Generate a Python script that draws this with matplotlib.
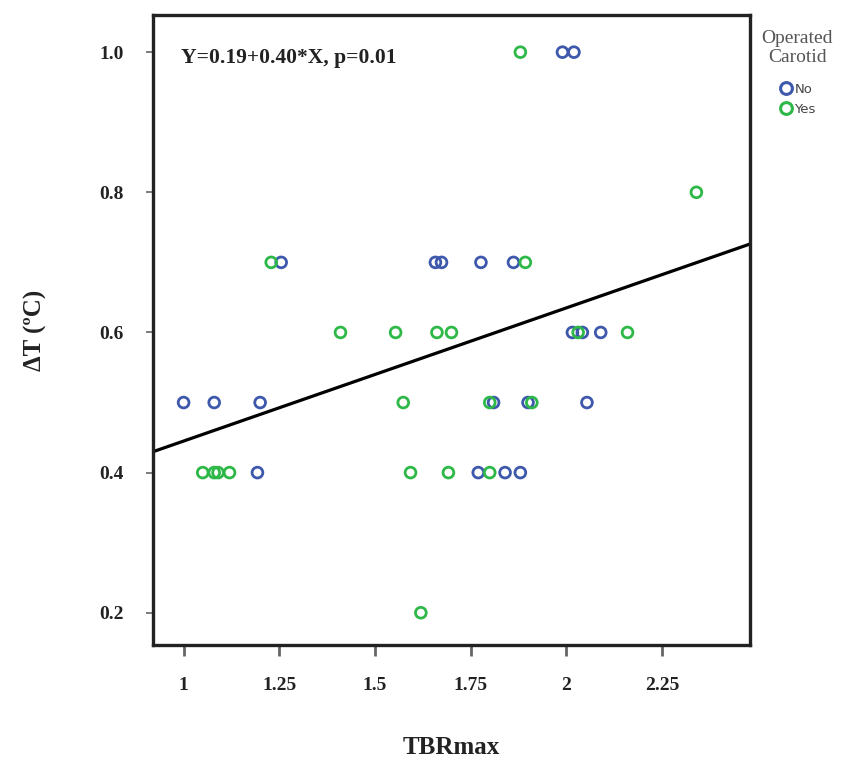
import matplotlib

matplotlib.use("Agg")
import matplotlib.pyplot as plt  # noqa: E402
from matplotlib.lines import Line2D  # noqa: E402
import numpy as np  # noqa: E402

# 读图估计的散点数据：TBRmax vs ΔT，按是否为手术侧颈动脉分组
no_x = [1.99, 2.02,
        1.255, 1.658, 1.674, 1.777, 1.862,
        2.016, 2.042, 2.09,
        1.0, 1.08, 1.20, 1.81, 1.90, 2.054,
        1.193, 1.77, 1.84, 1.88]
no_y = [1.0, 1.0,
        0.7, 0.7, 0.7, 0.7, 0.7,
        0.6, 0.6, 0.6,
        0.5, 0.5, 0.5, 0.5, 0.5, 0.5,
        0.4, 0.4, 0.4, 0.4]

yes_x = [1.88,
         2.34,
         1.229, 1.893,
         1.41, 1.554, 1.662, 1.70, 2.031, 2.16,
         1.574, 1.80, 1.91,
         1.05, 1.08, 1.09, 1.12, 1.593, 1.692, 1.80,
         1.62]
yes_y = [1.0,
         0.8,
         0.7, 0.7,
         0.6, 0.6, 0.6, 0.6, 0.6, 0.6,
         0.5, 0.5, 0.5,
         0.4, 0.4, 0.4, 0.4, 0.4, 0.4, 0.4,
         0.2]

# 图中实际画出的拟合线（按像素读出）
fit_intercept = 0.255
fit_slope = 0.19
equation = "Y=0.19+0.40*X, p=0.01"

x_ticks = [1, 1.25, 1.5, 1.75, 2, 2.25]
x_tick_labels = ["1", "1.25", "1.5", "1.75", "2", "2.25"]
y_ticks = [0.2, 0.4, 0.6, 0.8, 1.0]
y_tick_labels = ["0.2", "0.4", "0.6", "0.8", "1.0"]

_BLUE = "#3e58ac"
_GREEN = "#2eb848"
_SERIF = ["Liberation Serif", "DejaVu Serif"]

fig = plt.figure(figsize=(8.48, 7.67), dpi=100)
ax = fig.add_axes([0.1804, 0.1591, 0.704, 0.8213])

xlim = (0.92, 2.48)
ax.set_xlim(*xlim)
ax.set_ylim(0.154, 1.053)

xs = np.array(xlim)
ax.plot(xs, fit_intercept + fit_slope * xs, color="black", lw=2.3, zorder=2)

mk = dict(marker="o", s=60, facecolors="none", linewidths=2.0, zorder=3)
ax.scatter(no_x, no_y, edgecolors=_BLUE, **mk)
ax.scatter(yes_x, yes_y, edgecolors=_GREEN, **mk)

ax.text(0.047, 0.932, equation, transform=ax.transAxes, family=_SERIF,
        fontweight="bold", fontsize=15.5, color="#222222", va="center")

ax.set_xticks(x_ticks)
ax.set_xticklabels(x_tick_labels)
ax.set_yticks(y_ticks)
ax.set_yticklabels(y_tick_labels)
for lab in ax.get_xticklabels() + ax.get_yticklabels():
    lab.set_family(_SERIF)
    lab.set_fontweight("bold")
    lab.set_fontsize(14)
    lab.set_color("#222222")
ax.tick_params(axis="x", direction="out", length=8, width=2, pad=15, color="#666666")
ax.tick_params(axis="y", direction="out", length=5, width=1.2, pad=16, color="#666666")

for s in ax.spines.values():
    s.set_linewidth(2.4)
    s.set_color("#222222")

ax.set_xlabel("TBRmax", family=_SERIF, fontweight="bold", fontsize=18,
              labelpad=30, color="#222222")
ax.set_ylabel("ΔT (ºC)", family=_SERIF, fontweight="bold", fontsize=18,
              labelpad=38, color="#222222")

# 图例：标题衬线灰字，条目小号无衬线
handles = [
    Line2D([], [], ls="none", marker="o", mfc="none", mec=_BLUE, mew=2.2, ms=8.5, label="No"),
    Line2D([], [], ls="none", marker="o", mfc="none", mec=_GREEN, mew=2.2, ms=8.5, label="Yes"),
]
leg = fig.legend(handles=handles, title="Operated\nCarotid", loc="upper left",
                 bbox_to_anchor=(0.892, 0.968), frameon=False, fontsize=9.5,
                 handletextpad=0.15, handlelength=1.0, labelspacing=0.5,
                 borderaxespad=0)
leg.get_title().set_family(_SERIF)
leg.get_title().set_fontsize(14)
leg.get_title().set_color("#555555")
leg.get_title().set_multialignment("center")
leg._legend_box.align = "center"
leg._legend_box.sep = 12
for t in leg.get_texts():
    t.set_color("#444444")

fig.savefig("out.png", dpi=100)
plt.close(fig)
